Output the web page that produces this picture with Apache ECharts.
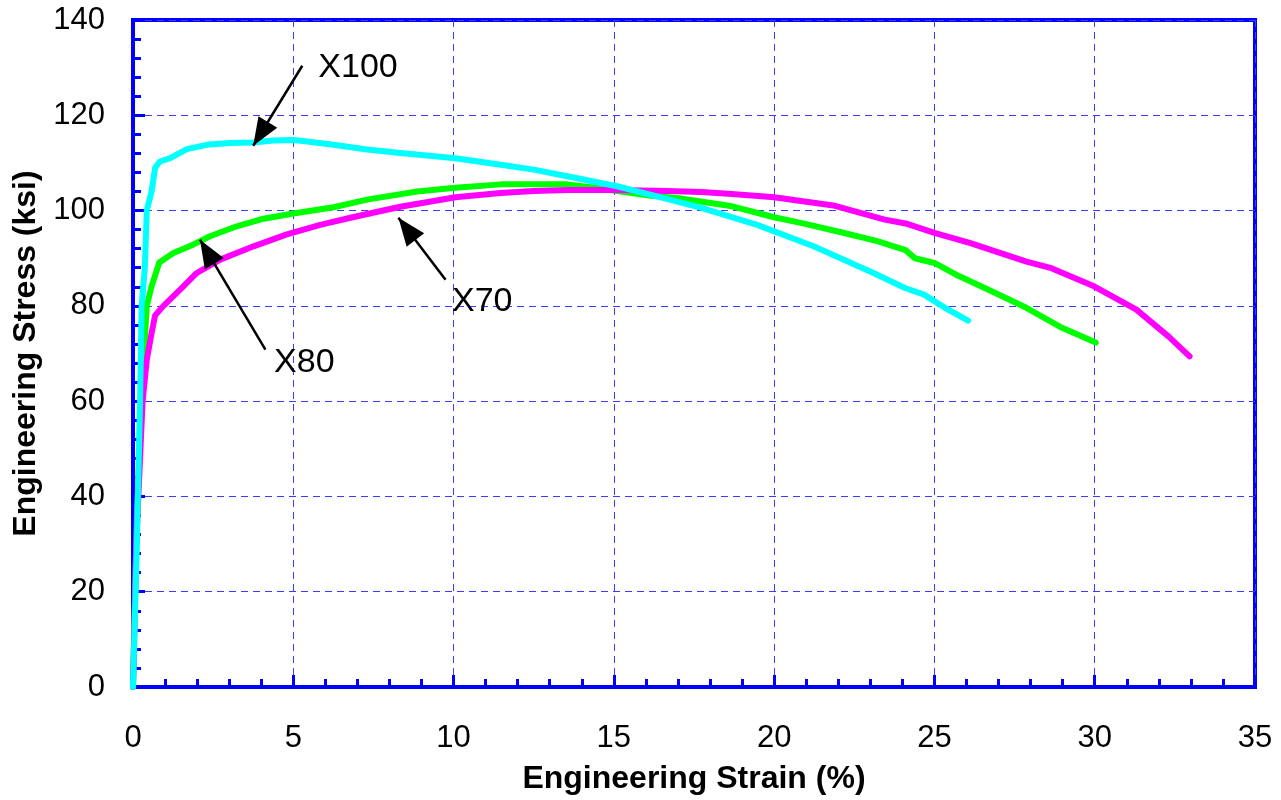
<!DOCTYPE html>
<html>
<head>
<meta charset="utf-8">
<script src="https://cdn.jsdelivr.net/npm/echarts@6/dist/echarts.min.js"></script>
<style>
html,body{margin:0;padding:0;background:#fff;}
#chart{width:1281px;height:800px;}
</style>
</head>
<body>
<div id="chart"></div>
<script>
// ---- Data (strain %, stress ksi) ----
const x100 = [[0,0],[0.12,30],[0.22,60],[0.27,80],[0.37,88],[0.43,100],[0.58,104],[0.69,109],[0.84,110.3],[1.16,111],[1.68,112.9],[2.3,113.8],[3.03,114.2],[3.75,114.3],[4.38,114.7],[5.0,114.8],[5.43,114.5],[6.25,113.8],[7.3,112.8],[8.34,112.1],[10.06,111],[11.47,109.6],[12.5,108.6],[13.55,107.2],[15.1,105.1],[16.68,102.4],[17.7,100.6],[19.47,97],[21.23,92.5],[23.1,86.9],[24.1,83.7],[24.66,82.4],[25.33,79.6],[26.05,76.9]];
const x80 = [[0,0],[0.12,35],[0.27,61.8],[0.43,80],[0.58,84.1],[0.82,89.1],[1.26,91.1],[1.89,92.9],[2.4,94.6],[3.24,96.7],[4.07,98.3],[5.0,99.4],[6.26,100.7],[7.3,102.3],[8.86,104],[10.06,104.8],[11.47,105.5],[13.55,105.5],[14.4,104.8],[15.1,104.1],[16.16,103.1],[17.03,102.6],[18.69,100.9],[20.0,98.6],[20.9,97.3],[22.12,95.4],[23.22,93.6],[24.1,91.7],[24.39,90.0],[25.0,89.0],[25.66,86.6],[26.77,83.1],[27.87,79.6],[28.98,75.4],[30.03,72.3]];
const x70 = [[0,0],[0.1,30],[0.3,60],[0.43,68.7],[0.58,74.3],[0.69,78],[0.95,80],[1.47,83.4],[1.99,86.9],[2.72,89.7],[3.76,92.5],[4.8,95],[5.84,97],[6.78,98.5],[8.34,100.8],[10.06,102.8],[11.47,103.7],[12.5,104.1],[13.55,104.3],[15.1,104.3],[16.68,104.1],[17.72,103.9],[18.69,103.5],[20.0,102.8],[21.9,101.0],[23.45,98.1],[24.1,97.3],[25.0,95.3],[26.1,93.2],[27.87,89.3],[28.65,87.9],[29.98,84.1],[31.3,79.2],[32.3,73.6],[32.96,69.4]];

// annotation labels and arrows (data coordinates)
const annotationNames = ['X100','X80','X70'];
const annotationLabelPos = [[5.78,129.9],[4.4,68.0],[9.95,80.8]];
const arrowTails = [[5.28,130.4],[4.13,70.8],[9.75,85.5]];
const arrowTips = [[3.75,113.6],[2.09,93.9],[8.28,98.5]];

const xTitle = 'Engineering Strain (%)';
const yTitle = 'Engineering Stress (ksi)';

const FONT = '"Liberation Sans", Arial, sans-serif';
const BLUE = '#0000ff';
const GRID_BLUE = '#3c3cff';

const chart = echarts.init(document.getElementById('chart'), null, {renderer:'canvas'});

function curve(name, data, color){
  return {
    name, type:'line', data, showSymbol:false, symbol:'none', smooth:false,
    lineStyle:{color, width:6, cap:'round', join:'round'},
    itemStyle:{color}, silent:true, animation:false, z:3
  };
}

const arrowData = arrowTails.map((t,i)=>[
  {coord:t, symbol:'none'},
  {coord:arrowTips[i], symbol:'triangle', symbolSize:[22,28], symbolOffset:[0,'50%']}
]);

const option = {
  animation:false,
  backgroundColor:'#ffffff',
  grid:{left:133, right:26, top:20, bottom:112, show:true, borderColor:BLUE, borderWidth:4, containLabel:false},
  xAxis:{
    type:'value', min:0, max:35, interval:5,
    name:xTitle, nameLocation:'middle', nameGap:76,
    nameTextStyle:{fontFamily:FONT, fontSize:32, fontWeight:'bold', color:'#000'},
    axisLine:{show:true, onZero:false, lineStyle:{color:BLUE, width:4}},
    axisTick:{show:true, inside:true, length:12, lineStyle:{color:BLUE, width:3}},
    minorTick:{show:true, splitNumber:5, length:8, lineStyle:{color:BLUE, width:3}},
    axisLabel:{fontFamily:FONT, fontSize:31, color:'#000', margin:36},
    splitLine:{show:true, lineStyle:{color:GRID_BLUE, width:1, type:[7,5]}},
    minorSplitLine:{show:false}
  },
  yAxis:{
    type:'value', min:0, max:140, interval:20,
    name:yTitle, nameLocation:'middle', nameGap:88, nameRotate:90,
    nameTextStyle:{fontFamily:FONT, fontSize:32, fontWeight:'bold', color:'#000'},
    axisLine:{show:true, onZero:false, lineStyle:{color:BLUE, width:4}},
    axisTick:{show:true, inside:true, length:12, lineStyle:{color:BLUE, width:3}},
    minorTick:{show:true, splitNumber:5, length:8, lineStyle:{color:BLUE, width:3}},
    axisLabel:{fontFamily:FONT, fontSize:31, color:'#000', margin:28},
    splitLine:{show:true, lineStyle:{color:GRID_BLUE, width:1, type:[7,5]}},
    minorSplitLine:{show:false}
  },
  series:[
    curve('X80', x80, '#00ff00'),
    curve('X70', x70, '#ff00ff'),
    curve('X100', x100, '#00ffff'),
    {
      name:'annotations', type:'scatter', symbolSize:0, silent:true, z:5,
      itemStyle:{opacity:1},
      data: annotationNames.map((n,i)=>({name:n, value:annotationLabelPos[i]})),
      label:{show:true, position:'right', distance:0, formatter:p=>p.name,
             fontFamily:FONT, fontSize:34, color:'#000000', opacity:1,
             textBorderWidth:0, textShadowBlur:0},
      markLine:{
        silent:true, animation:false,
        lineStyle:{color:'#000', width:2.5, type:'solid'},
        label:{show:false},
        emphasis:{disabled:true},
        data: arrowData
      }
    }
  ]
};
chart.setOption(option);
</script>
</body>
</html>
